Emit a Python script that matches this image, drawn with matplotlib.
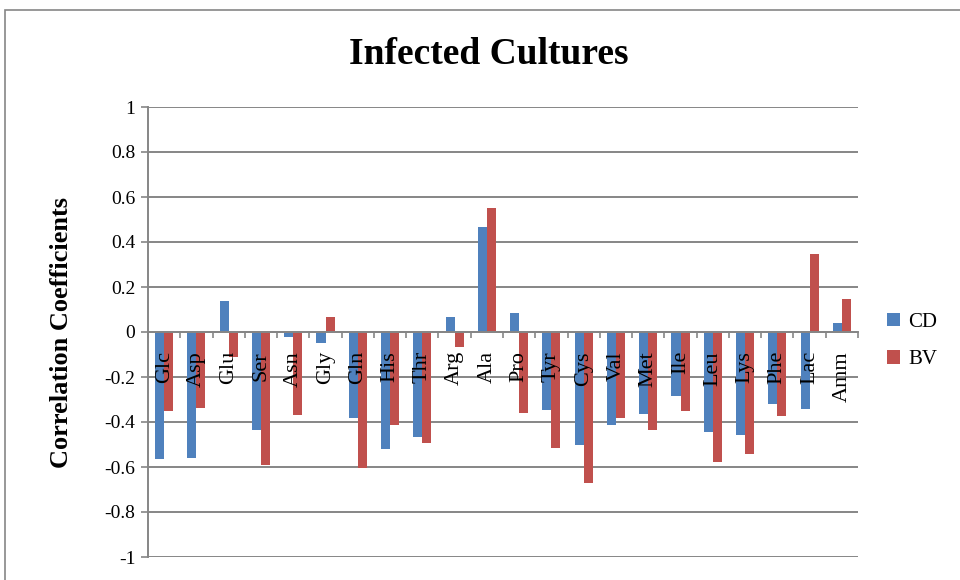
import matplotlib
matplotlib.use("Agg")
import matplotlib.pyplot as plt
from matplotlib.patches import Rectangle
import numpy as np

# -----------------------------
# Data
# -----------------------------

categories = ["Glc", "Asp", "Glu", "Ser", "Asn", "Gly", "Gln", "His", "Thr", "Arg",
              "Ala", "Pro", "Tyr", "Cys", "Val", "Met", "Ile", "Leu", "Lys", "Phe",
              "Lac", "Amm"]

cd = [-0.563, -0.560, 0.138, -0.434, -0.022, -0.049, -0.381, -0.518, -0.466, 0.068,
      0.468, 0.084, -0.345, -0.504, -0.412, -0.363, -0.286, -0.444, -0.456, -0.320,
      -0.341, 0.039]
bv = [-0.351, -0.338, -0.111, -0.591, -0.370, 0.065, -0.606, -0.412, -0.492, -0.068,
      0.553, -0.361, -0.515, -0.672, -0.384, -0.435, -0.350, -0.579, -0.542, -0.373,
      0.345, 0.148]

yticks = [1, 0.8, 0.6, 0.4, 0.2, 0, -0.2, -0.4, -0.6, -0.8, -1]
ytick_labels = ["1", "0.8", "0.6", "0.4", "0.2", "0", "-0.2", "-0.4", "-0.6", "-0.8", "-1"]

CD_COLOR = "#4F81BD"
BV_COLOR = "#C0504D"
GRID = "#868686"
SERIF = ["Liberation Serif", "DejaVu Serif"]

plt.rcParams["font.family"] = SERIF

# -----------------------------
# Figure
# -----------------------------

fig = plt.figure(figsize=(9.6, 5.8), dpi=100)
fig.patches.append(Rectangle((5 / 960, -0.1), 1.2, 1.1 - 10 / 580,
                             transform=fig.transFigure, fill=False,
                             edgecolor=GRID, linewidth=1.2))

ax = fig.add_axes([148 / 960, 1 - 557 / 580, 710 / 960, 450 / 580])

n = len(categories)
x = np.arange(n)
w = 0.28

ax.bar(x - w / 2, cd, w, color=CD_COLOR, label="CD", zorder=3)
ax.bar(x + w / 2, bv, w, color=BV_COLOR, label="BV", zorder=3)

ax.set_xlim(-0.5, n - 0.5)
ax.set_ylim(-1, 1)

ax.set_yticks(yticks)
ax.set_yticklabels(ytick_labels, fontsize=14)
ax.yaxis.grid(True, color=GRID, linewidth=1.4, zorder=0)
ax.tick_params(axis="y", direction="out", length=5, color=GRID, width=1.2, pad=4)

ax.set_xticks(np.arange(n + 1) - 0.5)
ax.set_xticklabels([])
ax.tick_params(axis="x", direction="out", length=4, color=GRID, width=1.2)

ax.spines["bottom"].set_position(("data", 0))
ax.spines["bottom"].set_color(GRID)
ax.spines["bottom"].set_linewidth(1.4)
ax.spines["bottom"].set_zorder(4)
ax.spines["left"].set_color(GRID)
ax.spines["left"].set_linewidth(1.4)
ax.spines["top"].set_visible(False)
ax.spines["right"].set_visible(False)

for i, name in enumerate(categories):
    ax.text(i, -0.085, name, rotation=90, ha="center", va="top",
            fontsize=16, zorder=5)

ax.set_ylabel("Correlation Coefficients", fontsize=19, fontweight="bold")
ax.yaxis.set_label_coords(-0.105, 0.5)
fig.text(489 / 960, 1 - 55 / 580, "Infected Cultures", ha="center", va="center",
         fontsize=27, fontweight="bold")

ax.legend(loc="center left", bbox_to_anchor=(1.015, 0.48), frameon=False,
          fontsize=15, handlelength=0.6, handleheight=0.6, labelspacing=0.9,
          handletextpad=0.4)

fig.savefig("out.png", dpi=100)
